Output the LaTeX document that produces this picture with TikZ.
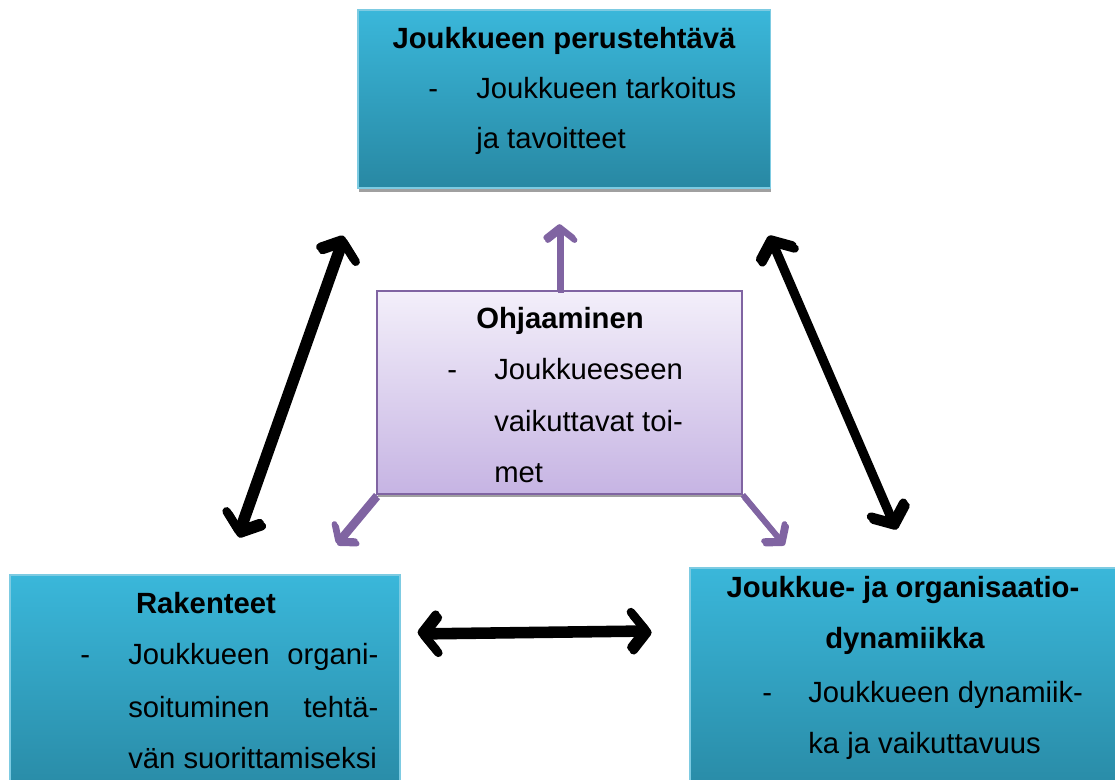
\documentclass[tikz,border=0pt]{standalone}
\usepackage{fontspec}
\setmainfont{Liberation Sans}
\usetikzlibrary{arrows.meta,calc,shadows}
\definecolor{tealtop}{RGB}{58,183,218}
\definecolor{tealbot}{RGB}{40,136,163}
\definecolor{tealline}{RGB}{125,203,226}
\definecolor{lavtop}{RGB}{243,239,250}
\definecolor{lavbot}{RGB}{198,180,227}
\definecolor{purp}{RGB}{128,100,162}
\definecolor{shade}{RGB}{160,160,160}

\begin{document}
\begin{tikzpicture}[x=0.025cm,y=-0.025cm,font=\fontsize{20.8}{25}\selectfont,
    bluebox/.style={draw=tealline,line width=0.8pt,inner sep=0pt,top color=tealtop,bottom color=tealbot,
      drop shadow={shadow xshift=0.6pt,shadow yshift=-2.6pt,fill=shade,opacity=1}},
    lavbox/.style={draw=purp,line width=1.1pt,inner sep=0pt,top color=lavtop,bottom color=lavbot,
      drop shadow={shadow xshift=0.6pt,shadow yshift=-2pt,fill=shade,opacity=1}},
    ttl/.style={anchor=base,inner sep=0pt,font=\fontsize{20.8}{25}\selectfont\bfseries},
    txt/.style={anchor=base west,inner sep=0pt},
    blk/.style={line width=6pt,{Straight Barb[length=10pt,width=25pt,round]}-{Straight Barb[length=10pt,width=25pt,round]}},
    blkshd/.style={blk,shade,transform canvas={shift={(1.6pt,-2.2pt)}}},
    pur/.style={line width=4pt,purp,-{Straight Barb[length=7.5pt,width=19pt,round]}},
    purshd/.style={pur,shade,transform canvas={shift={(1.2pt,-1.8pt)}}}]
    \useasboundingbox (0,0) rectangle (1115,780);
    \clip (0,0) rectangle (1115,780);

    \node[bluebox,minimum width=10.3cm,minimum height=4.45cm] (teht) at (564,99) {};
    \node[lavbox,minimum width=9.125cm,minimum height=5.075cm] (ohj) at (559.5,392.5) {};
    \node[bluebox,minimum width=9.75cm,minimum height=5.75cm] (rak) at (205,690) {};
    \node[bluebox,minimum width=10.9cm,minimum height=5.9cm] (dyn) at (908,686) {};

    \node[ttl] (teht-t) at (564,49) {Joukkueen perustehtävä};
    \node[txt] (teht-d) at (428,99) {-};
    \node[txt] (teht-1) at (476,99) {Joukkueen tarkoitus};
    \node[txt] (teht-2) at (476,149) {ja tavoitteet};

    \node[ttl] (ohj-t) at (560,328) {Ohjaaminen};
    \node[txt] (ohj-d) at (447,379) {-};
    \node[txt] (ohj-1) at (494,379) {Joukkueeseen};
    \node[txt] (ohj-2) at (494,431) {vaikuttavat toi-};
    \node[txt] (ohj-3) at (494,482) {met};

    \node[ttl] (rak-t) at (206,613) {Rakenteet};
    \node[txt] (rak-d) at (80,664) {-};
    \node[txt] (rak-1) at (128,664) {\makebox[6.25cm][s]{Joukkueen organi-}};
    \node[txt] (rak-2) at (128,717) {\makebox[6.25cm][s]{soituminen tehtä-}};
    \node[txt] (rak-3) at (128,768) {vän suorittamiseksi};

    \node[ttl] (dyn-t) at (903,597) {Joukkue- ja organisaatio-};
    \node[ttl] (dyn-t2) at (905,648) {dynamiikka};
    \node[txt] (dyn-d) at (762,702) {-};
    \node[txt] (dyn-1) at (808,702) {Joukkueen dynamiik-};
    \node[txt] (dyn-2) at (808,753) {ka ja vaikuttavuus};

    \foreach \lay in {blkshd,blk} {
      \draw[\lay] ($(rak.north)+(32,-40)$) -- ($(teht.south)+(-221,47)$);
      \draw[\lay] ($(teht.south)+(205,47)$) -- ($(dyn.north west)+(205,-41)$);
      \draw[\lay] ($(rak.north east)+(17,58)$) -- ($(dyn.north west)+(-40,62)$);
    }
    \foreach \lay in {purshd,pur} {
      \draw[\lay] (ohj.north) -- ($(ohj.north)+(0,-66)$);
      \draw[\lay] (ohj.south west) -- ($(ohj.south west)+(-40,48)$);
      \draw[\lay] (ohj.south east) -- ($(ohj.south east)+(40,48)$);
    }
  \end{tikzpicture}
\end{document}
